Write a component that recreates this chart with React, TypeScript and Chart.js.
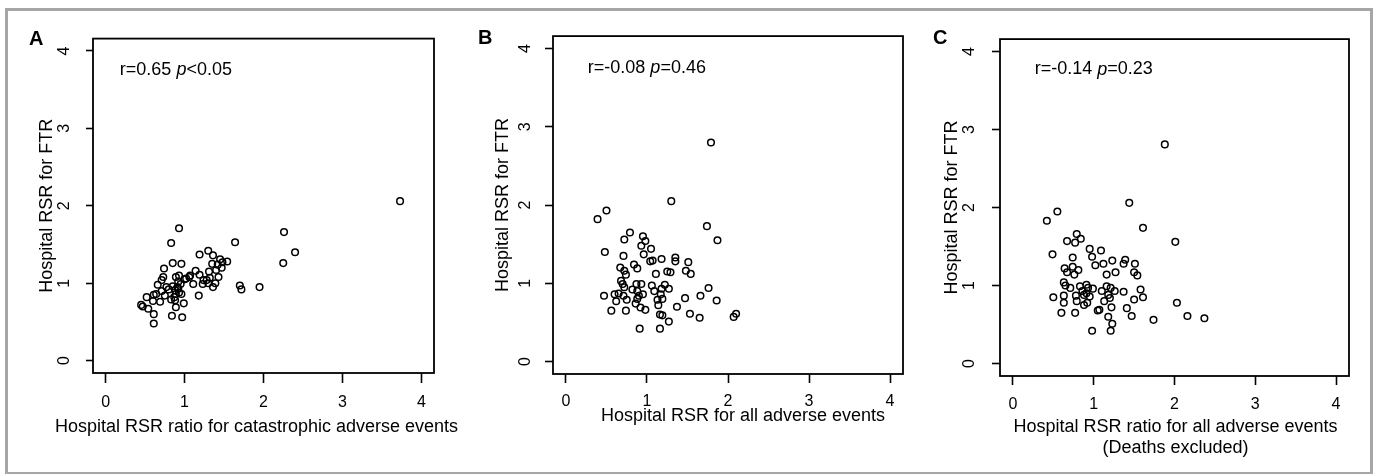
import React, { useEffect, useRef } from "react";
import { Chart, registerables } from "chart.js";

Chart.register(...registerables);

// ---- shared axis definition ----
const axisTicks = [0, 1, 2, 3, 4];
const axisMin = -0.16;
const axisMax = 4.16;

// ---- Panel A: catastrophic adverse events ratio vs FTR ----
const catastrophicRatioA = [
  3.73, 2.26, 2.40, 2.25, 1.95, 1.70, 1.72, 1.64, 0.93, 0.83,
  0.85, 0.96, 0.74, 1.19, 1.30, 1.36, 1.45, 1.54, 1.42, 1.47,
  1.40, 1.31, 1.14, 1.19, 1.07, 1.43, 1.32, 1.28, 1.24, 1.39,
  1.36, 1.23, 1.11, 1.00, 0.89, 0.93, 0.95, 0.91, 0.88, 0.85,
  0.93, 0.89, 0.96, 1.18, 0.87, 0.88, 0.99, 0.89, 0.84, 0.97,
  0.71, 0.66, 0.77, 0.71, 0.64, 0.75, 0.83, 0.61, 0.52, 0.60,
  0.69, 0.47, 0.54, 0.45, 0.61, 0.61, 1.06, 0.92, 1.02, 0.80,
  1.48, 1.35, 0.73, 0.92, 1.30,
];
const ftrA = [
  2.06, 1.66, 1.40, 1.26, 0.95, 0.97, 0.92, 1.53, 1.71, 1.52,
  1.26, 1.25, 1.19, 1.37, 1.42, 1.36, 1.31, 1.28, 1.24, 1.20,
  1.17, 1.15, 1.16, 1.11, 1.10, 1.08, 1.07, 1.04, 1.04, 1.00,
  0.95, 0.99, 0.99, 1.05, 1.08, 1.10, 0.99, 0.95, 0.91, 0.96,
  0.88, 0.86, 0.86, 0.84, 0.82, 0.78, 0.74, 0.69, 0.58, 0.56,
  1.04, 0.98, 0.95, 0.90, 0.86, 0.84, 0.79, 0.85, 0.82, 0.77,
  0.76, 0.70, 0.67, 0.72, 0.60, 0.48, 1.08, 1.02, 1.06, 0.92,
  1.27, 1.25, 1.08, 0.93, 1.00,
];

// ---- Panel B: all adverse events vs FTR ----
const allEventsB = [
  1.79, 1.30, 1.74, 1.87, 0.39, 0.50, 0.48, 0.79, 0.72, 0.95,
  0.98, 0.93, 1.05, 0.96, 0.71, 1.04, 1.07, 1.18, 1.35, 1.35,
  1.51, 1.48, 1.54, 1.29, 1.25, 1.11, 0.84, 0.88, 0.67, 0.72,
  0.74, 0.68, 0.70, 0.72, 0.87, 0.93, 0.82, 0.88, 0.95, 1.06,
  1.09, 1.18, 1.22, 1.27, 1.17, 1.19, 1.13, 1.14, 1.16, 1.19,
  1.27, 1.16, 0.91, 0.92, 0.98, 0.86, 0.88, 0.75, 0.71, 0.60,
  0.47, 0.62, 0.56, 0.74, 1.37, 1.47, 1.53, 1.65, 1.66, 1.76,
  1.86, 2.07, 2.10, 0.90, 0.65,
];
const ftrB = [
  2.80, 2.05, 1.73, 1.55, 1.82, 1.93, 1.40, 1.65, 1.56, 1.60,
  1.54, 1.48, 1.44, 1.37, 1.35, 1.28, 1.29, 1.31, 1.33, 1.28,
  1.27, 1.16, 1.12, 1.14, 1.15, 1.12, 1.24, 1.19, 1.20, 1.16,
  1.11, 1.03, 0.99, 0.95, 0.99, 0.99, 0.92, 0.90, 0.86, 0.97,
  0.90, 0.93, 0.98, 0.93, 0.86, 0.80, 0.79, 0.72, 0.60, 0.59,
  0.51, 0.42, 0.42, 0.69, 0.66, 0.74, 0.80, 0.79, 0.84, 0.86,
  0.84, 0.77, 0.65, 0.65, 0.70, 0.81, 0.61, 0.56, 0.84, 0.94,
  0.78, 0.57, 0.61, 0.84, 0.87,
];

// ---- Panel C: all adverse events (deaths excluded) vs FTR ----
const allEventsNoDeathsC = [
  1.88, 1.44, 1.61, 2.01, 0.42, 0.55, 0.49, 0.79, 0.67, 0.77,
  0.84, 0.95, 1.09, 0.98, 0.74, 1.02, 1.12, 1.23, 1.39, 1.37,
  1.51, 1.50, 1.54, 1.27, 1.16, 0.74, 0.81, 0.64, 0.67, 0.76,
  0.63, 0.65, 0.71, 0.83, 0.91, 0.93, 0.86, 0.78, 0.91, 0.95,
  0.99, 1.10, 1.16, 1.21, 1.26, 1.37, 1.58, 1.61, 1.50, 1.13,
  1.20, 1.22, 1.41, 1.47, 1.05, 1.18, 1.23, 1.21, 0.98, 0.88,
  0.92, 0.79, 0.50, 0.63, 0.63, 0.60, 0.77, 1.74, 2.03, 2.16,
  2.37, 0.88, 1.07, 1.18,
];
const ftrC = [
  2.81, 2.06, 1.74, 1.56, 1.83, 1.95, 1.40, 1.66, 1.57, 1.55,
  1.60, 1.47, 1.45, 1.37, 1.36, 1.26, 1.28, 1.32, 1.33, 1.28,
  1.28, 1.17, 1.13, 1.17, 1.14, 1.24, 1.20, 1.22, 1.17, 1.14,
  1.04, 1.00, 0.97, 0.99, 1.01, 0.97, 0.93, 0.87, 0.90, 0.86,
  0.96, 0.93, 0.99, 0.97, 0.93, 0.92, 0.95, 0.85, 0.82, 0.80,
  0.84, 0.72, 0.71, 0.61, 0.68, 0.60, 0.51, 0.42, 0.42, 0.75,
  0.78, 0.80, 0.85, 0.87, 0.78, 0.65, 0.65, 0.56, 0.78, 0.61,
  0.58, 0.88, 0.69, 0.88,
];

const FONT = '"Liberation Sans", Arial, Helvetica, sans-serif';

type Segment = { text: string; italic?: boolean };

type PanelCfg = {
  letter: string;
  xs: number[];
  ys: number[];
  xTitle: string[];
  yTitle: string;
  annotation: Segment[];
  annX: number;
  annY: number;
  canvas: { left: number; top: number; width: number; height: number };
  yAxisWidth: number;
  xAxisHeight: number;
  padTop: number;
  padRight: number;
  yTickLen: number;
  yTickPad: number;
  yTitlePad: number;
  xTickLen: number;
  xTickPad: number;
  xTitleDx: number;
  xTitleDy: number;
  letterX: number;
  letterY: number;
};

const panels: PanelCfg[] = [
  {
    letter: "A",
    xs: catastrophicRatioA,
    ys: ftrA,
    xTitle: ["Hospital RSR ratio for catastrophic adverse events"],
    yTitle: "Hospital RSR for FTR",
    annotation: [{ text: "r=0.65 " }, { text: "p", italic: true }, { text: "<0.05" }],
    annX: 0.18,
    annY: 3.75,
    canvas: { left: 18, top: 12, width: 452, height: 458 },
    yAxisWidth: 75,
    xAxisHeight: 97,
    padTop: 20,
    padRight: 36,
    yTickLen: 7,
    yTickPad: 17,
    yTitlePad: 18,
    xTickLen: 10,
    xTickPad: 10,
    xTitleDx: -7,
    xTitleDy: 54,
    letterX: 11,
    letterY: 27,
  },
  {
    letter: "B",
    xs: allEventsB,
    ys: ftrB,
    xTitle: ["Hospital RSR for all adverse events"],
    yTitle: "Hospital RSR for FTR",
    annotation: [{ text: "r=-0.08 " }, { text: "p", italic: true }, { text: "=0.46" }],
    annX: 0.27,
    annY: 3.75,
    canvas: { left: 472, top: 12, width: 450, height: 458 },
    yAxisWidth: 81,
    xAxisHeight: 96,
    padTop: 20,
    padRight: 19,
    yTickLen: 8,
    yTickPad: 14.5,
    yTitlePad: 20,
    xTickLen: 9,
    xTickPad: 9,
    xTitleDx: 15,
    xTitleDy: 42,
    letterX: 6,
    letterY: 26,
  },
  {
    letter: "C",
    xs: allEventsNoDeathsC,
    ys: ftrC,
    xTitle: ["Hospital RSR ratio for all adverse events", "(Deaths excluded)"],
    yTitle: "Hospital RSR for FTR",
    annotation: [{ text: "r=-0.14 " }, { text: "p", italic: true }, { text: "=0.23" }],
    annX: 0.27,
    annY: 3.77,
    canvas: { left: 926, top: 12, width: 440, height: 458 },
    yAxisWidth: 74,
    xAxisHeight: 94,
    padTop: 21,
    padRight: 17,
    yTickLen: 8,
    yTickPad: 17.5,
    yTitlePad: 15,
    xTickLen: 9,
    xTickPad: 10,
    xTitleDx: 1,
    xTitleDy: 51,
    letterX: 7,
    letterY: 26,
  },
];

const decorPlugin = {
  id: "panelDecor",
  afterDraw(chart: any, _args: any, opts: any) {
    const { ctx, chartArea: ca, scales } = chart;
    ctx.save();
    // frame (R box)
    ctx.strokeStyle = "#000";
    ctx.lineWidth = 1.8;
    ctx.strokeRect(ca.left, ca.top, ca.right - ca.left, ca.bottom - ca.top);
    ctx.fillStyle = "#000";
    ctx.textBaseline = "middle";
    // x axis title (centred under the axis, may run past the plot width)
    ctx.textAlign = "center";
    ctx.font = `18px ${FONT}`;
    const tx = (ca.left + ca.right) / 2 + opts.xTitleDx;
    (opts.xTitle as string[]).forEach((line, i) => {
      ctx.fillText(line, tx, ca.bottom + opts.xTitleDy + i * 21);
    });
    // panel letter
    ctx.textAlign = "left";
    ctx.font = `bold 20px ${FONT}`;
    ctx.fillText(opts.letter, opts.letterX, opts.letterY);
    // correlation annotation
    let cx = scales.x.getPixelForValue(opts.annX);
    const cy = scales.y.getPixelForValue(opts.annY);
    for (const seg of opts.segments as Segment[]) {
      ctx.font = `${seg.italic ? "italic " : ""}18px ${FONT}`;
      ctx.fillText(seg.text, cx, cy);
      cx += ctx.measureText(seg.text).width;
    }
    ctx.restore();
  },
};

function Panel({ cfg }: { cfg: PanelCfg }) {
  const ref = useRef<HTMLCanvasElement | null>(null);

  useEffect(() => {
    if (!ref.current) return;
    const tickFont = { family: FONT, size: 16 };
    const titleFont = { family: FONT, size: 18 };
    const chart = new Chart(ref.current, {
      type: "scatter",
      data: {
        datasets: [
          {
            data: cfg.xs.map((x, i) => ({ x, y: cfg.ys[i] })),
            pointStyle: "circle",
            pointRadius: 3.3,
            pointBorderWidth: 1.5,
            pointBorderColor: "#000",
            pointBackgroundColor: "rgba(0,0,0,0)",
            showLine: false,
          },
        ],
      },
      options: {
        animation: false,
        responsive: false,
        maintainAspectRatio: false,
        layout: { padding: { top: cfg.padTop, right: cfg.padRight, left: 0, bottom: 0 } },
        plugins: {
          legend: { display: false },
          tooltip: { enabled: false },
          panelDecor: {
            letter: cfg.letter,
            letterX: cfg.letterX,
            letterY: cfg.letterY,
            segments: cfg.annotation,
            annX: cfg.annX,
            annY: cfg.annY,
            xTitle: cfg.xTitle,
            xTitleDx: cfg.xTitleDx,
            xTitleDy: cfg.xTitleDy,
          },
        } as any,
        scales: {
          x: {
            type: "linear",
            position: "bottom",
            min: axisMin,
            max: axisMax,
            afterBuildTicks: (s: any) => {
              s.ticks = axisTicks.map((v) => ({ value: v }));
            },
            afterFit: (s: any) => {
              s.height = cfg.xAxisHeight;
            },
            grid: {
              display: true,
              drawOnChartArea: false,
              drawTicks: true,
              tickLength: cfg.xTickLen,
              tickColor: "#000",
              tickWidth: 1.6,
              color: "#000",
            },
            border: { display: false },
            ticks: {
              minRotation: 0,
              maxRotation: 0,
              padding: cfg.xTickPad,
              color: "#000",
              font: tickFont,
            },
            title: { display: false },
          },
          y: {
            type: "linear",
            position: "left",
            min: axisMin,
            max: axisMax,
            afterBuildTicks: (s: any) => {
              s.ticks = axisTicks.map((v) => ({ value: v }));
            },
            afterFit: (s: any) => {
              s.width = cfg.yAxisWidth;
            },
            grid: {
              display: true,
              drawOnChartArea: false,
              drawTicks: true,
              tickLength: cfg.yTickLen,
              tickColor: "#000",
              tickWidth: 1.6,
              color: "#000",
            },
            border: { display: false },
            ticks: {
              minRotation: 90,
              maxRotation: 90,
              crossAlign: "center",
              padding: cfg.yTickPad,
              color: "#000",
              font: tickFont,
            },
            title: {
              display: true,
              text: cfg.yTitle,
              color: "#000",
              font: titleFont,
              padding: { top: cfg.yTitlePad, bottom: 0 },
            },
          },
        },
      } as any,
      plugins: [decorPlugin as any],
    });
    return () => chart.destroy();
  }, [cfg]);

  return (
    <canvas
      ref={ref}
      width={cfg.canvas.width}
      height={cfg.canvas.height}
      style={{
        position: "absolute",
        left: cfg.canvas.left,
        top: cfg.canvas.top,
        width: cfg.canvas.width,
        height: cfg.canvas.height,
      }}
    />
  );
}

export default function App() {
  return (
    <div
      style={{
        position: "absolute",
        left: 0,
        top: 0,
        width: 1374,
        height: 474,
        background: "#fff",
        overflow: "hidden",
      }}
    >
      <div
        style={{
          position: "absolute",
          left: 5,
          top: 8,
          width: 1368,
          height: 466,
          boxSizing: "border-box",
          borderStyle: "solid",
          borderColor: "#a6a6a6",
          borderWidth: "3px 3px 2px 3px",
        }}
      />
      {panels.map((p) => (
        <Panel key={p.letter} cfg={p} />
      ))}
    </div>
  );
}
